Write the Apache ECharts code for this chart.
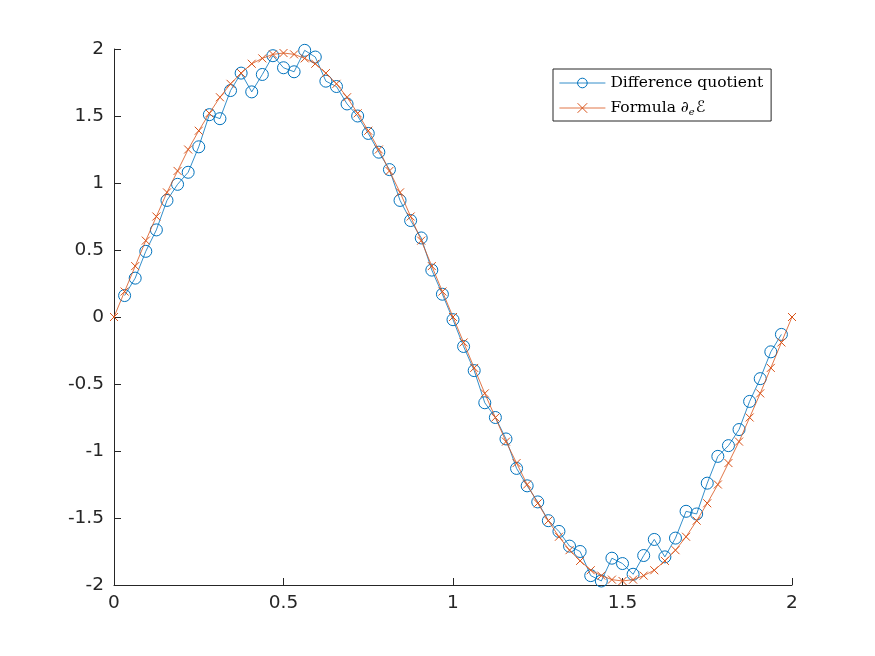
<!DOCTYPE html>
<html>
<head>
<meta charset="utf-8">
<script src="https://cdn.jsdelivr.net/npm/echarts@6/dist/echarts.min.js"></script>
<style>
html,body{margin:0;padding:0;background:#fff;}
#c{width:875px;height:656px;}
</style>
</head>
<body>
<div id="c"></div>
<script>
var xGrid = [0, 0.03125, 0.0625, 0.09375, 0.125, 0.15625, 0.1875, 0.21875, 0.25, 0.28125, 0.3125, 0.34375, 0.375, 0.40625, 0.4375, 0.46875, 0.5, 0.53125, 0.5625, 0.59375, 0.625, 0.65625, 0.6875, 0.71875, 0.75, 0.78125, 0.8125, 0.84375, 0.875, 0.90625, 0.9375, 0.96875, 1, 1.03125, 1.0625, 1.09375, 1.125, 1.15625, 1.1875, 1.21875, 1.25, 1.28125, 1.3125, 1.34375, 1.375, 1.40625, 1.4375, 1.46875, 1.5, 1.53125, 1.5625, 1.59375, 1.625, 1.65625, 1.6875, 1.71875, 1.75, 1.78125, 1.8125, 1.84375, 1.875, 1.90625, 1.9375, 1.96875, 2];

var diffQuotient = [0.16, 0.29, 0.49, 0.65, 0.87, 0.99, 1.08, 1.27, 1.51, 1.48,
  1.69, 1.82, 1.68, 1.81, 1.95, 1.86, 1.83, 1.99, 1.94, 1.76,
  1.72, 1.59, 1.50, 1.37, 1.23, 1.10, 0.87, 0.72, 0.59, 0.35,
  0.17, -0.02, -0.22, -0.40, -0.64, -0.75, -0.91, -1.13, -1.26, -1.38,
  -1.52, -1.60, -1.71, -1.75, -1.93, -1.97, -1.80, -1.84, -1.92, -1.78,
  -1.66, -1.79, -1.65, -1.45, -1.47, -1.24, -1.04, -0.96, -0.84, -0.63,
  -0.46, -0.26, -0.13];

var formula = [0, 0.19, 0.38, 0.57, 0.75, 0.93, 1.09, 1.25, 1.39, 1.52, 1.64, 1.74, 1.82, 1.89, 1.93, 1.96,
  1.97, 1.96, 1.93, 1.89, 1.82, 1.74, 1.64, 1.52, 1.39, 1.25, 1.09, 0.93, 0.75, 0.57, 0.38, 0.19,
  0, -0.19, -0.38, -0.57, -0.75, -0.93, -1.09, -1.25, -1.39, -1.52, -1.64, -1.74, -1.82, -1.89, -1.93, -1.96,
  -1.97, -1.96, -1.93, -1.89, -1.82, -1.74, -1.64, -1.52, -1.39, -1.25, -1.09, -0.93, -0.75, -0.57, -0.38, -0.19, 0];

var seriesNames = ['Difference quotient', 'Formula ∂eℰ'];
var xTicks = [0, 0.5, 1, 1.5, 2];
var yTicks = [-2, -1.5, -1, -0.5, 0, 0.5, 1, 1.5, 2];

var dqXs = xGrid.slice(1, 64);
var dqData = dqXs.map(function (x, i) { return [x, diffQuotient[i]]; });
var fData = xGrid.map(function (x, i) { return [x, formula[i]]; });

var axisColor = '#262626';
var tickFont = { color: axisColor, fontFamily: 'DejaVu Sans', fontSize: 18.5 };

var chart = echarts.init(document.getElementById('c'), null, { renderer: 'canvas' });
chart.setOption({
  backgroundColor: '#ffffff',
  animation: false,
  grid: { left: 114, right: 83, top: 49, bottom: 71, containLabel: false },
  xAxis: {
    type: 'value', min: xTicks[0], max: xTicks[xTicks.length - 1], interval: 0.5,
    splitLine: { show: false },
    axisLine: { show: true, onZero: false, lineStyle: { color: axisColor, width: 1 } },
    axisTick: { show: true, inside: true, length: 7, lineStyle: { color: axisColor, width: 1 } },
    axisLabel: Object.assign({ margin: 9, formatter: function (v) { return String(v); } }, tickFont)
  },
  yAxis: {
    type: 'value', min: yTicks[0], max: yTicks[yTicks.length - 1], interval: 0.5,
    splitLine: { show: false },
    axisLine: { show: true, onZero: false, lineStyle: { color: axisColor, width: 1 } },
    axisTick: { show: true, inside: true, length: 7, lineStyle: { color: axisColor, width: 1 } },
    axisLabel: Object.assign({ margin: 10, formatter: function (v) { return String(v); } }, tickFont)
  },
  legend: {
    orient: 'vertical',
    left: 553, top: 69,
    padding: [5, 8, 4, 6],
    itemWidth: 46, itemHeight: 12, itemGap: 7,
    backgroundColor: '#ffffff',
    borderColor: axisColor, borderWidth: 1, borderRadius: 0,
    data: seriesNames,
    lineStyle: { width: 0.8 },
    itemStyle: { borderWidth: 1 },
    formatter: function (name) {
      if (name === seriesNames[1]) {
        return '{t|Formula }{d|∂}{s|e}{m|ℰ}';
      }
      return '{t|' + name + '}';
    },
    textStyle: {
      color: '#000', fontFamily: 'DejaVu Serif', fontSize: 15.5, lineHeight: 18,
      rich: {
        t: { fontFamily: 'DejaVu Serif', fontSize: 15.5, color: '#000', lineHeight: 18 },
        d: { fontFamily: 'DejaVu Serif', fontSize: 15.5, fontStyle: 'italic', color: '#000', lineHeight: 18 },
        s: { fontFamily: 'DejaVu Serif', fontSize: 10, fontStyle: 'italic', color: '#000', verticalAlign: 'bottom', lineHeight: 14, padding: [6, 1, 0, 0] },
        m: { fontFamily: 'DejaVu Sans', fontSize: 16, color: '#000', lineHeight: 18 }
      }
    }
  },
  series: [
    {
      name: seriesNames[0], type: 'line', data: dqData,
      symbol: 'circle', symbolSize: 12, showAllSymbol: true,
      lineStyle: { color: '#0072BD', width: 0.8 },
      itemStyle: { color: 'rgba(0,0,0,0)', borderColor: '#0072BD', borderWidth: 1 },
      emphasis: { disabled: true }, z: 2
    },
    {
      name: seriesNames[1], type: 'line', data: fData,
      symbol: 'path://M0,0L10,10M10,0L0,10', symbolSize: 8, showAllSymbol: true,
      lineStyle: { color: '#D95319', width: 0.8 },
      itemStyle: { color: 'none', borderColor: '#D95319', borderWidth: 1 },
      emphasis: { disabled: true }, z: 3
    }
  ]
});
</script>
</body>
</html>
